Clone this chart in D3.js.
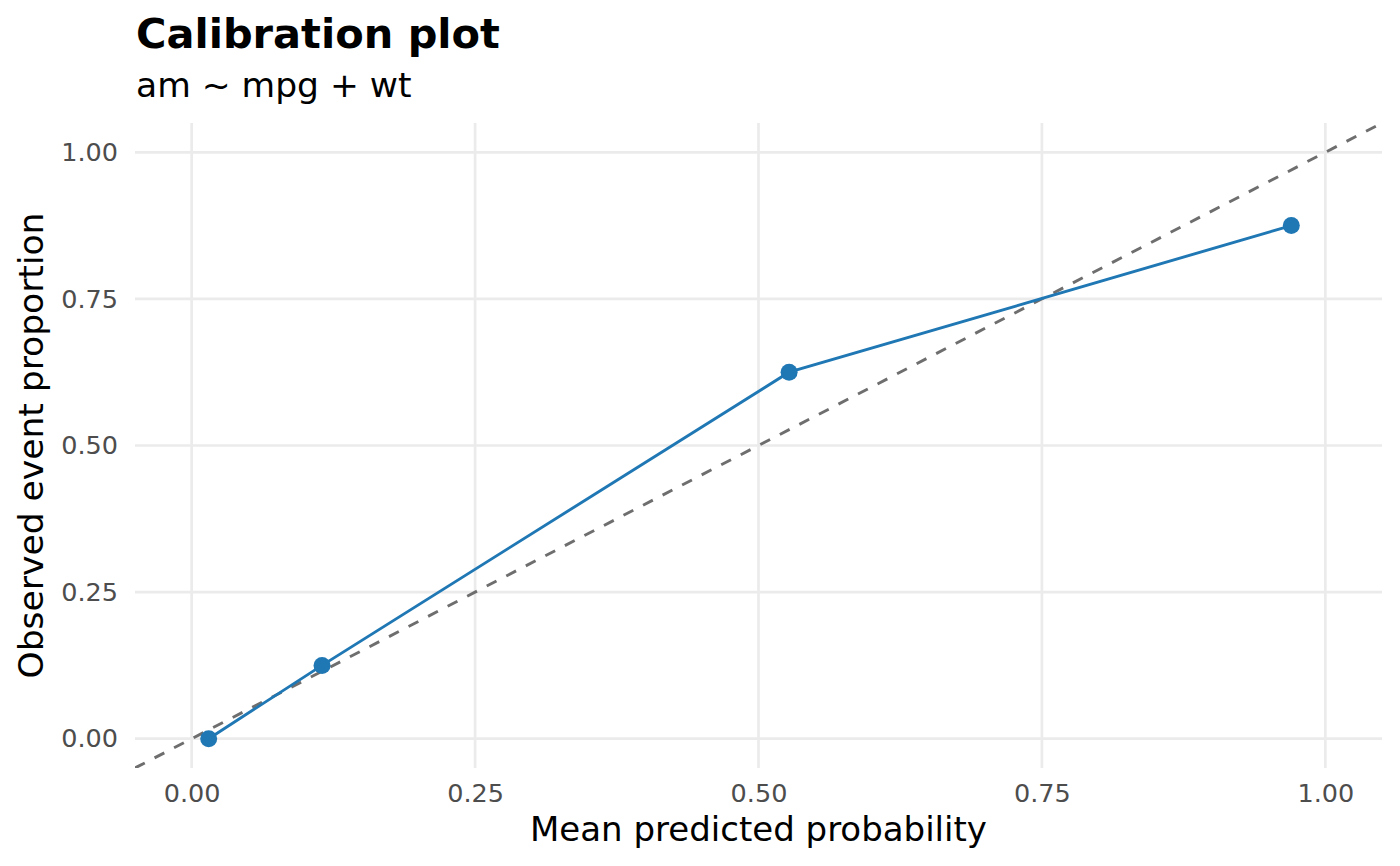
<!DOCTYPE html>
<html>
<head>
<meta charset="utf-8">
<script src="https://cdn.jsdelivr.net/npm/d3@7"></script>
<style>
  body { margin: 0; background: #fff; }
  text { font-family: "DejaVu Sans", sans-serif; }
</style>
</head>
<body>
<div id="chart"></div>
<script>
// Daten
const meanPredicted = [0.015, 0.115, 0.527, 0.970];
const observedProportion = [0.0, 0.125, 0.625, 0.875];
const tickValues = [0, 0.25, 0.5, 0.75, 1];
const titleText = "Calibration plot";
const subtitleText = "am ~ mpg + wt";
const xLabel = "Mean predicted probability";
const yLabel = "Observed event proportion";

const width = 1400;
const height = 866;
const margin = {top: 123, right: 18, bottom: 98, left: 135};

const svg = d3.select("#chart")
    .append("svg")
    .attr("width", width)
    .attr("height", height);

// Skalen
const x = d3.scaleLinear()
    .domain([-0.05, 1.05])
    .range([margin.left, width - margin.right]);

const y = d3.scaleLinear()
    .domain([-0.05, 1.05])
    .range([height - margin.bottom, margin.top]);

const fmt = d3.format(".2f");

// Gitterlinien
svg.append("g")
    .selectAll("line")
    .data(tickValues)
    .join("line")
    .attr("x1", d => x(d)).attr("x2", d => x(d))
    .attr("y1", margin.top).attr("y2", height - margin.bottom)
    .attr("stroke", "#ebebeb")
    .attr("stroke-width", 2.7);

svg.append("g")
    .selectAll("line")
    .data(tickValues)
    .join("line")
    .attr("y1", d => y(d)).attr("y2", d => y(d))
    .attr("x1", margin.left).attr("x2", width - margin.right)
    .attr("stroke", "#ebebeb")
    .attr("stroke-width", 2.7);

// Achsen (ohne Linien, nur Beschriftungen)
const xAxis = svg.append("g")
    .attr("transform", `translate(0,${height - margin.bottom})`)
    .call(d3.axisBottom(x).tickValues(tickValues).tickFormat(fmt).tickSize(0).tickPadding(0));

const yAxis = svg.append("g")
    .attr("transform", `translate(${margin.left},0)`)
    .call(d3.axisLeft(y).tickValues(tickValues).tickFormat(fmt).tickSize(0).tickPadding(17));

[xAxis, yAxis].forEach(a => {
    a.select(".domain").remove();
    a.selectAll("text")
        .attr("fill", "#4d4d4d")
        .style("font-size", "25.5px")
        .style("font-family", "DejaVu Sans");
});
xAxis.selectAll("text").attr("dy", null).attr("y", 34);

// Diagonale (perfekte Kalibrierung)
svg.append("defs").append("clipPath")
    .attr("id", "panel")
    .append("rect")
    .attr("x", margin.left).attr("y", margin.top)
    .attr("width", width - margin.left - margin.right)
    .attr("height", height - margin.top - margin.bottom);

svg.append("line")
    .attr("clip-path", "url(#panel)")
    .attr("x1", x(-0.05)).attr("y1", y(-0.05))
    .attr("x2", x(1.05)).attr("y2", y(1.05))
    .attr("stroke", "#6e6e6e")
    .attr("stroke-width", 2.9)
    .attr("stroke-dasharray", "11,11");

// Kalibrierungslinie
const pts = meanPredicted.map((d, i) => ({x: d, y: observedProportion[i]}));

svg.append("path")
    .datum(pts)
    .attr("fill", "none")
    .attr("stroke", "#1f77b4")
    .attr("stroke-width", 2.9)
    .attr("d", d3.line().x(d => x(d.x)).y(d => y(d.y)));

svg.append("g")
    .selectAll("circle")
    .data(pts)
    .join("circle")
    .attr("cx", d => x(d.x))
    .attr("cy", d => y(d.y))
    .attr("r", 8.5)
    .attr("fill", "#1f77b4");

// Titel
svg.append("text")
    .attr("x", 136).attr("y", 48)
    .style("font-size", "41.5px")
    .style("font-weight", "bold")
    .text(titleText);

svg.append("text")
    .attr("x", 136).attr("y", 97)
    .style("font-size", "34.5px")
    .text(subtitleText);

// Achsentitel
svg.append("text")
    .attr("x", x(0.5)).attr("y", 841)
    .attr("text-anchor", "middle")
    .style("font-size", "34px")
    .text(xLabel);

svg.append("text")
    .attr("transform", `translate(43,${y(0.5)}) rotate(-90)`)
    .attr("text-anchor", "middle")
    .style("font-size", "34.5px")
    .text(yLabel);
</script>
</body>
</html>
